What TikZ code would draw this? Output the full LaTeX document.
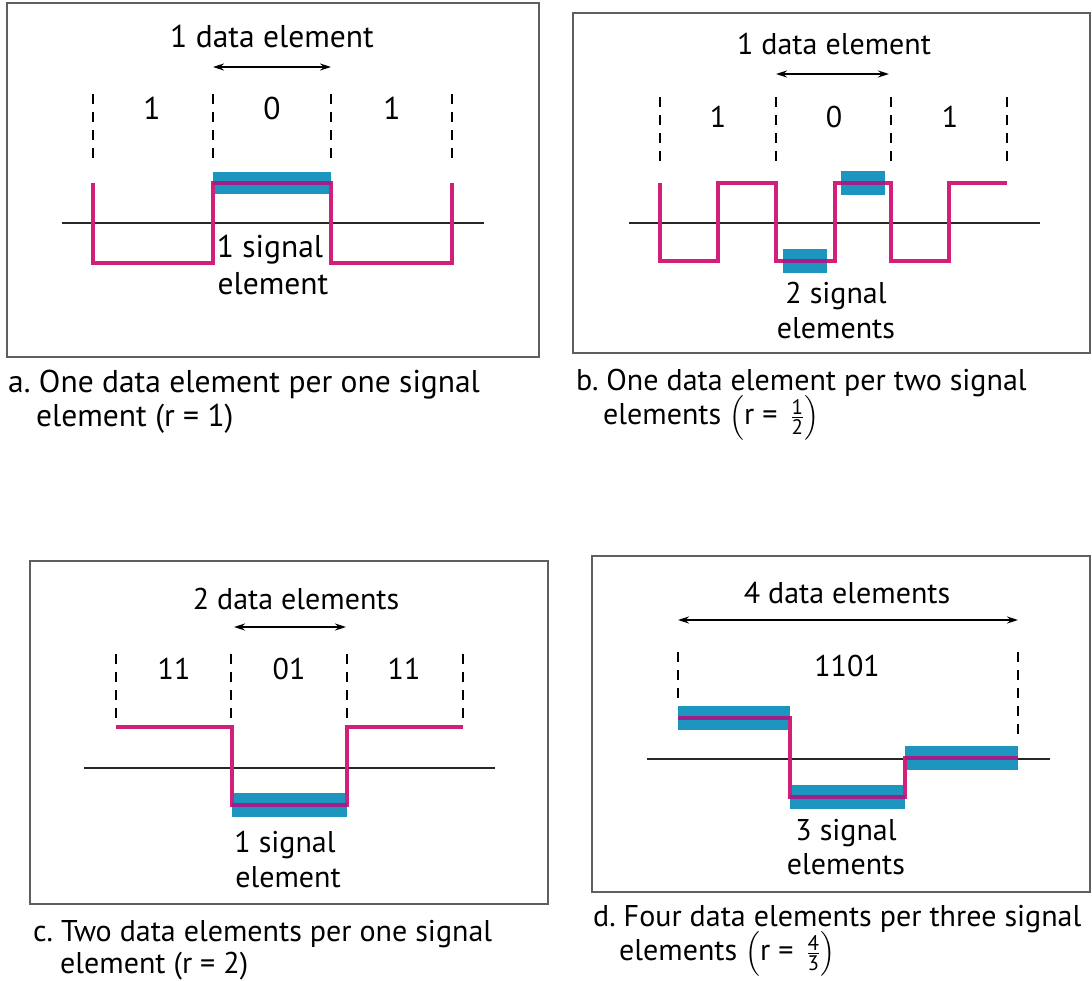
\documentclass[tikz,border=0pt]{standalone}
\usepackage{fontspec}
\usepackage{amsmath}
\setmainfont{PT Sans}
\usetikzlibrary{arrows.meta}
\definecolor{sigmag}{RGB}{210,32,122}
\definecolor{sigpur}{RGB}{160,32,138}
\definecolor{sigcyan}{RGB}{28,150,190}
\definecolor{framegray}{RGB}{95,95,95}
\newcommand{\rfrac}[2]{$\left(\text{r =\ \,}\genfrac{}{}{1.2pt}{1}{\text{#1}}{\text{#2}}\right)$}
\frenchspacing
\begin{document}
\frenchspacing
\begin{tikzpicture}[x=1pt,y=-1pt,
  lbl/.style={font=\fontsize{30}{34}\selectfont\frenchspacing, inner sep=0pt, text depth=0pt},
  lbla/.style={lbl, font=\fontsize{31.5}{35}\selectfont\frenchspacing},
  captext/.style={font=\fontsize{30}{34}\selectfont\frenchspacing, inner sep=0pt, anchor=base west},
  captexta/.style={captext, font=\fontsize{31.5}{35}\selectfont\frenchspacing},
  frame/.style={draw=framegray, line width=2pt},
  axisline/.style={draw=black!85, line width=2pt},
  sig/.style={draw=sigmag, line width=4.5pt, line join=miter},
  sigov/.style={draw=sigpur, line width=4.5pt},
  cyanbar/.style={fill=sigcyan},
  tickline/.style={draw=black, line width=2pt, dash pattern=on 10pt off 8pt},
  dimline/.style={draw=black, line width=1.4pt, {Stealth[length=11pt,width=7pt]}-{Stealth[length=11pt,width=7pt]}},
]
\fill[white] (0,0) rectangle (1092,981);
\useasboundingbox (0,0) rectangle (1092,981);

% ---------- panel a ----------
\draw[frame] (7,3) rectangle (539,357);
\node[lbla] (a-title) at (272,36) {1 data element};
\coordinate (a-l) at (213,67); \coordinate (a-r) at (331,67);
\draw[dimline] (a-l) -- (a-r);
\foreach \x in {93,213,331,452} { \draw[tickline] (\x,94) -- (\x,158); }
\node[lbla] (a-b1) at (152,108) {1};
\node[lbla] (a-b2) at (272,108) {0};
\node[lbla] (a-b3) at (392,108) {1};
\draw[axisline] (62,223) -- (484,223);
\fill[cyanbar] (213,172) rectangle (331,194);
\draw[sig] (93,183) -- (93,263) -- (213,263) -- (213,183) -- (331,183) -- (331,263) -- (452,263) -- (452,183);
\draw[sigov] (213,183) -- (331,183);
\node[lbla] (a-s1) at (270,246) {1 signal};
\node[lbla] (a-s2) at (273,283) {element};
\node[captexta] (a-c1) at (8,392) {a. One data element per one signal};
\node[captexta] (a-c2) at (36,426) {element (r = 1)};

% ---------- panel b ----------
\draw[frame] (573,13) rectangle (1090,353);
\node[lbl] (b-title) at (834,44) {1 data element};
\coordinate (b-l) at (776,74); \coordinate (b-r) at (889,74);
\draw[dimline] (b-l) -- (b-r);
\foreach \x in {660,776,891,1007} { \draw[tickline] (\x,97) -- (\x,161); }
\node[lbl] (b-b1) at (718,117) {1};
\node[lbl] (b-b2) at (834,117) {0};
\node[lbl] (b-b3) at (950,117) {1};
\draw[axisline] (629,223) -- (1040,223);
\fill[cyanbar] (783,249) rectangle (827,273);
\fill[cyanbar] (841,171) rectangle (885,195);
\draw[sig] (660,183) -- (660,261) -- (718,261) -- (718,183) -- (776,183) -- (776,261) -- (835,261) -- (835,183) -- (891,183) -- (891,261) -- (949,261) -- (949,183) -- (1007,183);
\draw[sigov] (783,261) -- (827,261);
\draw[sigov] (841,183) -- (885,183);
\node[lbl] (b-s1) at (836,293) {2 signal};
\node[lbl] (b-s2) at (836,328) {elements};
\node[captext] (b-c1) at (576,390) {b. One data element per two signal};
\node[captext] (b-c2) at (603,424) {elements \rfrac{1}{2}};

% ---------- panel c ----------
\draw[frame] (30,561) rectangle (548,904);
\node[lbl] (c-title) at (296,599) {2 data elements};
\coordinate (c-l) at (234,627); \coordinate (c-r) at (346,627);
\draw[dimline] (c-l) -- (c-r);
\foreach \x in {116,231,347,463} { \draw[tickline] (\x,654) -- (\x,718); }
\node[lbl] (c-b1) at (174,669) {11};
\node[lbl] (c-b2) at (289,669) {01};
\node[lbl] (c-b3) at (404,669) {11};
\draw[axisline] (84,768) -- (495,768);
\fill[cyanbar] (232,793) rectangle (347,817);
\draw[sig] (116,727) -- (232,727) -- (232,805) -- (347,805) -- (347,727) -- (463,727);
\draw[sigov] (232,805) -- (347,805);
\node[lbl] (c-s1) at (285,842) {1 signal};
\node[lbl] (c-s2) at (288,877) {element};
\node[captext] (c-c1) at (33,941) {c. Two data elements per one signal};
\node[captext] (c-c2) at (60,973) {element (r = 2)};

% ---------- panel d ----------
\draw[frame] (592,556) rectangle (1090,892);
\node[lbl] (d-title) at (847,593) {4 data elements};
\coordinate (d-l) at (678,620); \coordinate (d-r) at (1018,620);
\draw[dimline] (d-l) -- (d-r);
\draw[tickline] (678,652) -- (678,698);
\draw[tickline] (1018,652) -- (1018,734);
\node[lbl] (d-bits) at (847,666) {1101};
\draw[axisline] (647,759) -- (1050,759);
\fill[cyanbar] (678,706) rectangle (790,730);
\fill[cyanbar] (790,785) rectangle (905,809);
\fill[cyanbar] (905,746) rectangle (1018,770);
\draw[sig] (678,718) -- (790,718) -- (790,797) -- (905,797) -- (905,758) -- (1018,758);
\draw[sigov] (678,718) -- (790,718);
\draw[sigov] (790,797) -- (905,797);
\draw[sigov] (905,758) -- (1018,758);
\node[lbl] (d-s1) at (846,830) {3 signal};
\node[lbl] (d-s2) at (846,864) {elements};
\node[captext] (d-c1) at (593,926) {d. Four data elements per three signal};
\node[captext] (d-c2) at (619,960) {elements \rfrac{4}{3}};
\end{tikzpicture}
\end{document}
